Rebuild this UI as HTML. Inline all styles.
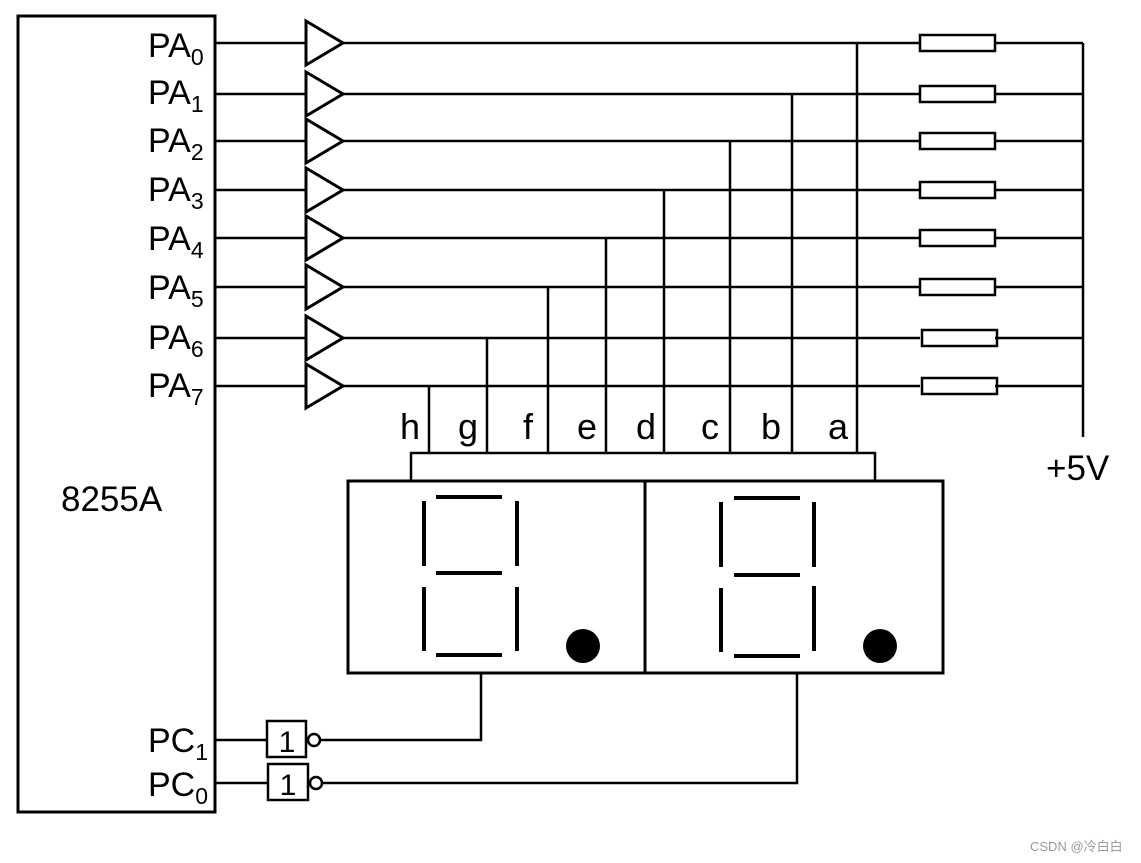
<!DOCTYPE html>
<html><head><meta charset="utf-8"><style>
html,body{margin:0;padding:0;background:#fff;}
svg{display:block;}
text{font-family:"Liberation Sans","DejaVu Sans",sans-serif;fill:#000;}
</style></head><body>
<svg width="1141" height="863" viewBox="0 0 1141 863" xmlns="http://www.w3.org/2000/svg">
<g stroke="#000" fill="none" stroke-width="3">
<rect x="18" y="16" width="197" height="796"/>
</g>
<g font-size="34">
<text x="148" y="57">PA<tspan font-size="23" dy="8">0</tspan></text>
<text x="148" y="104">PA<tspan font-size="23" dy="8">1</tspan></text>
<text x="148" y="152">PA<tspan font-size="23" dy="8">2</tspan></text>
<text x="148" y="201">PA<tspan font-size="23" dy="8">3</tspan></text>
<text x="148" y="250">PA<tspan font-size="23" dy="8">4</tspan></text>
<text x="148" y="299">PA<tspan font-size="23" dy="8">5</tspan></text>
<text x="148" y="349">PA<tspan font-size="23" dy="8">6</tspan></text>
<text x="148" y="397">PA<tspan font-size="23" dy="8">7</tspan></text>
<text x="148" y="752">PC<tspan font-size="23" dy="8">1</tspan></text>
<text x="148" y="796">PC<tspan font-size="23" dy="8">0</tspan></text>
<text x="61" y="511" font-size="35">8255A</text>
<text x="1046" y="480" font-size="35">+5V</text>
</g>
<g font-size="36" text-anchor="middle">
<text x="410" y="439">h</text><text x="468" y="439">g</text><text x="528" y="439">f</text>
<text x="587" y="439">e</text><text x="646" y="439">d</text><text x="710" y="439">c</text>
<text x="771" y="439">b</text><text x="838" y="439">a</text>
</g>
<g stroke="#000" fill="none" stroke-width="2.5">
<path d="M215 43H306M343 43H920M995 43H1083"/>
<path d="M215 94H306M343 94H920M995 94H1083"/>
<path d="M215 141H306M343 141H920M995 141H1083"/>
<path d="M215 190H306M343 190H920M995 190H1083"/>
<path d="M215 238H306M343 238H920M995 238H1083"/>
<path d="M215 287H306M343 287H920M995 287H1083"/>
<path d="M215 338H306M343 338H920M995 338H1083"/>
<path d="M215 386H306M343 386H920M995 386H1083"/>
<path d="M1083 43V437"/>
<path d="M857 43V452M792 94V452M730 141V452M664 190V452M606 238V452M548 287V452M487 338V452M429 386V452"/>
<path d="M411 481V453H875V481"/>
<g stroke-width="3">
<path d="M306 21L343 43L306 65Z"/>
<path d="M306 72L343 94L306 116Z"/>
<path d="M306 119L343 141L306 163Z"/>
<path d="M306 168L343 190L306 212Z"/>
<path d="M306 216L343 238L306 260Z"/>
<path d="M306 265L343 287L306 309Z"/>
<path d="M306 316L343 338L306 360Z"/>
<path d="M306 364L343 386L306 408Z"/>
</g>
<rect x="920" y="35" width="75" height="16"/>
<rect x="920" y="86" width="75" height="16"/>
<rect x="920" y="133" width="75" height="16"/>
<rect x="920" y="182" width="75" height="16"/>
<rect x="920" y="230" width="75" height="16"/>
<rect x="920" y="279" width="75" height="16"/>
<rect x="922" y="330" width="75" height="16"/>
<rect x="922" y="378" width="75" height="16"/>
<rect x="348" y="481" width="595" height="192" stroke-width="3"/>
<path d="M645 481V673" stroke-width="3"/>
<path d="M481 673V740H320M797 673V783H322"/>
<path d="M215 740H267M215 783H268"/>
<rect x="267" y="721" width="39" height="36"/>
<rect x="268" y="764" width="40" height="36"/>
<circle cx="314" cy="740" r="6"/>
<circle cx="316" cy="783" r="6"/>
</g>
<g stroke="#000" stroke-width="4" fill="none">
<path d="M436 497H502M436 573H502M436 655H502"/>
<path d="M424 501V566M424 587V651M517 501V566M517 587V651"/>
<path d="M734 498H800M734 575H800M734 656H800"/>
<path d="M721 502V567M721 588V652M814 502V567M814 586V651"/>
</g>
<circle cx="583" cy="646" r="17" fill="#000"/>
<circle cx="880" cy="646" r="17" fill="#000"/>
<g font-size="30" text-anchor="middle">
<text x="287" y="752">1</text><text x="288" y="795">1</text>
</g>
<text x="1030" y="851" font-size="13" style="fill:#999;font-family:'Liberation Sans','Noto Sans CJK SC',sans-serif">CSDN @冷白白</text>
</svg>
</body></html>
